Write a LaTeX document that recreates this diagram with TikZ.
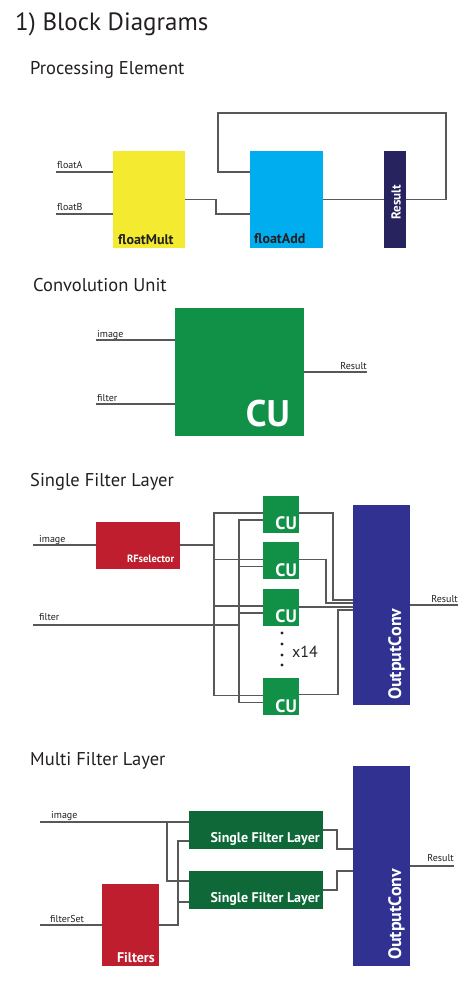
\documentclass[tikz,border=0pt]{standalone}
\usepackage{fontspec}
\setmainfont{PT Sans}
\usetikzlibrary{calc}
\definecolor{wiregray}{RGB}{88,88,88}
\definecolor{inkblack}{RGB}{35,31,32}
\definecolor{multyellow}{RGB}{244,235,49}
\definecolor{addblue}{RGB}{0,174,239}
\definecolor{resultnavy}{RGB}{39,35,94}
\definecolor{cugreen}{RGB}{16,145,71}
\definecolor{rfred}{RGB}{190,30,45}
\definecolor{convblue}{RGB}{49,49,146}
\definecolor{layergreen}{RGB}{14,104,56}
\tikzset{
	boxstyle/.style={rectangle,inner sep=0pt,outer sep=0pt},
	multstyle/.style={boxstyle,fill=multyellow,minimum width=72pt,minimum height=97pt},
	addstyle/.style={boxstyle,fill=addblue,minimum width=73pt,minimum height=97pt},
	resultstyle/.style={boxstyle,fill=resultnavy,minimum width=22pt,minimum height=97pt},
	cubigstyle/.style={boxstyle,fill=cugreen,minimum width=129pt,minimum height=128pt},
	custyle/.style={boxstyle,fill=cugreen,minimum width=36pt,minimum height=37pt},
	rfstyle/.style={boxstyle,fill=rfred,minimum width=84pt,minimum height=47pt},
	convstyle/.style={boxstyle,fill=convblue,minimum width=57pt,minimum height=200pt},
	layerstyle/.style={boxstyle,fill=layergreen,minimum width=134pt,minimum height=38pt},
	filterstyle/.style={boxstyle,fill=rfred,minimum width=57pt,minimum height=82pt},
	dotstyle/.style={circle,fill=inkblack,inner sep=0pt,minimum size=3.4pt},
	wirestyle/.style={draw=wiregray,line width=1.1pt},
	headstyle/.style={text=inkblack,inner sep=0pt,font=\fontsize{25}{30}\selectfont},
	sectionstyle/.style={text=inkblack,inner sep=0pt,font=\fontsize{18.5}{22}\selectfont},
	wirelabelstyle/.style={text=inkblack,inner sep=0pt,font=\fontsize{10}{12}\selectfont},
	darktextstyle/.style={text=inkblack,inner sep=0pt,font=\fontsize{14}{16}\selectfont\bfseries},
	whitetextstyle/.style={text=white,inner sep=0pt,font=\fontsize{14}{16}\selectfont\bfseries}
}
\begin{document}
\begin{tikzpicture}[x=1pt,y=-1pt]
	\useasboundingbox (0,0) rectangle (472,981);
	\node[headstyle,anchor=base west] (title) at (15,31) {1) Block Diagrams};
	% processing element
	\node[sectionstyle,anchor=base west] (petitle) at (30,75) {Processing Element};
	\node[multstyle] (mult) at (149,199.5) {};
	\node[addstyle] (add) at (286.5,199.5) {};
	\node[resultstyle] (res) at (395,199.5) {};
	\coordinate (fa) at (56,172);
	\coordinate (fb) at (56,214);
	\node[wirelabelstyle,anchor=base west] (falabel) at (57,169) {floatA};
	\node[wirelabelstyle,anchor=base west] (fblabel) at (57,211) {floatB};
	\draw[wirestyle] (fa) -- (mult.west |- fa);
	\draw[wirestyle] (fb) -- (mult.west |- fb);
	\draw[wirestyle] (mult.east) -- (216,199.5) |- (add.west |- fb);
	\draw[wirestyle] (add.east) -- (res.west);
	\draw[wirestyle] (res.east) -- (446,199.5) |- (218,113) |- (add.west |- fa);
	\node[darktextstyle,anchor=base west] (multtext) at ([xshift=5pt,yshift=3pt]mult.south west) {floatMult};
	\node[darktextstyle,anchor=base west] (addtext) at ([xshift=4pt,yshift=4pt]add.south west) {floatAdd};
	\node[whitetextstyle,font=\fontsize{13}{14}\selectfont\bfseries,rotate=90] (restext) at (396,202) {Result};
	% convolution unit
	\node[sectionstyle,anchor=base west] (cutitle) at (33,291) {Convolution Unit};
	\node[cubigstyle] (cu) at (239.5,372) {};
	\coordinate (cuimg) at (96,340);
	\coordinate (cufilt) at (96,404);
	\coordinate (cures) at (367,372);
	\node[wirelabelstyle,anchor=base west] (cuimglabel) at (97,337) {image};
	\node[wirelabelstyle,anchor=base west] (cufiltlabel) at (97,401) {filter};
	\node[wirelabelstyle,anchor=base east] (cureslabel) at (367,369) {Result};
	\draw[wirestyle] (cuimg) -- (cu.west |- cuimg);
	\draw[wirestyle] (cufilt) -- (cu.west |- cufilt);
	\draw[wirestyle] (cu.east) -- (cures);
	\node[whitetextstyle,font=\fontsize{37}{40}\selectfont\bfseries,anchor=base east] (cutext) at ([xshift=-14pt,yshift=10pt]cu.south east) {CU};
	% single filter layer
	\node[sectionstyle,anchor=base west] (sfltitle) at (30,486) {Single Filter Layer};
	\node[rfstyle] (rfs) at (137.5,545) {};
	\node[whitetextstyle,font=\fontsize{10.5}{12}\selectfont\bfseries,anchor=base east] (rfstext) at ([xshift=-5pt,yshift=6pt]rfs.south east) {RFselector};
	\foreach \i/\y in {1/514,2/560.5,3/607,4/696.5} {
		\node[custyle] (cu\i) at (281,\y) {};
		\node[whitetextstyle,font=\fontsize{18}{20}\selectfont\bfseries,anchor=base east] (cutext\i) at ([xshift=-2pt,yshift=3pt]cu\i.south east) {CU};
	}
	\node[convstyle] (oc1) at (381.5,605) {};
	\node[whitetextstyle,font=\fontsize{18}{20}\selectfont\bfseries,rotate=90,anchor=base west] (oc1text) at ([xshift=-9pt,yshift=5pt]oc1.south east) {OutputConv};
	\coordinate (sflimg) at (33,545);
	\coordinate (sflfilt) at (33,625);
	\coordinate (sflres) at (458,605);
	\coordinate (busa) at (214,545);
	\coordinate (busb) at (239,625);
	\node[wirelabelstyle,anchor=base west] (sflimglabel) at (39,542) {image};
	\node[wirelabelstyle,anchor=base west] (sflfiltlabel) at (39,620) {filter};
	\node[wirelabelstyle,anchor=base east] (sflreslabel) at (458,602) {Result};
	\draw[wirestyle] (sflimg) -- (rfs.west);
	\draw[wirestyle] (rfs.east) -- (busa);
	\draw[wirestyle] (sflfilt) -- (busb);
	\foreach \i in {1,...,4} {
		\draw[wirestyle] (busa) |- ([yshift=1pt]cu\i.west);
		\draw[wirestyle] (busb) |- ([yshift=-6pt]cu\i.west);
	}
	\draw[wirestyle] ([yshift=1pt]cu1.east) -| ([xshift=-20pt,yshift=5pt]oc1.west) -- ([yshift=5pt]oc1.west);
	\draw[wirestyle] ([yshift=1pt]cu2.east) -| ([xshift=-27pt,yshift=2pt]oc1.west) -- ([yshift=2pt]oc1.west);
	\draw[wirestyle] (cu3.east) -- (oc1.west |- cu3.east);
	\draw[wirestyle] ([yshift=2pt]cu4.east) -| ([xshift=-15pt,yshift=-5pt]oc1.west) -- ([yshift=-5pt]oc1.west);
	\draw[wirestyle] (oc1.east) -- (sflres);
	\foreach \i/\y in {1/633,2/644,3/655,4/665}
		\node[dotstyle] (dot\i) at (282,\y) {};
	\node[text=inkblack,inner sep=0pt,font=\fontsize{16}{18}\selectfont,anchor=west] (cucount) at (292,652) {x14};
	% multi filter layer
	\node[sectionstyle,anchor=base west] (mfltitle) at (30,765) {Multi Filter Layer};
	\node[layerstyle] (sfl1) at (256,830) {};
	\node[layerstyle] (sfl2) at (256,890) {};
	\node[filterstyle] (filters) at (130.5,925) {};
	\node[convstyle] (oc2) at (381.5,866) {};
	\node[whitetextstyle,anchor=base east] (sfl1text) at ([xshift=-3pt,yshift=7pt]sfl1.south east) {Single Filter Layer};
	\node[whitetextstyle,anchor=base east] (sfl2text) at ([xshift=-3pt,yshift=7pt]sfl2.south east) {Single Filter Layer};
	\node[whitetextstyle,anchor=base east] (filterstext) at ([xshift=-4pt,yshift=4pt]filters.south east) {Filters};
	\node[whitetextstyle,font=\fontsize{18}{20}\selectfont\bfseries,rotate=90,anchor=base west] (oc2text) at ([xshift=-9pt,yshift=6pt]oc2.south east) {OutputConv};
	\coordinate (mflimg) at (40,822);
	\coordinate (mflset) at (40,925);
	\coordinate (mflres) at (454,866);
	\coordinate (busc) at (167,822);
	\coordinate (busd) at (178,925);
	\node[wirelabelstyle,anchor=base west] (mflimglabel) at (51,818) {image};
	\node[wirelabelstyle,anchor=base west] (mflsetlabel) at (50,922) {filterSet};
	\node[wirelabelstyle,anchor=base east] (mflreslabel) at (454,861) {Result};
	\draw[wirestyle] (mflimg) -- (sfl1.west |- mflimg);
	\draw[wirestyle] (busc) |- ([yshift=9pt]sfl2.west);
	\draw[wirestyle] (mflset) -- (filters.west);
	\draw[wirestyle] (filters.east) -- (busd) |- ([yshift=-11pt]sfl1.west);
	\draw[wirestyle] (busd) |- ([yshift=-12pt]sfl2.west);
	\draw[wirestyle] (sfl1.east) -| ([xshift=-16pt,yshift=17pt]oc2.west) -- ([yshift=17pt]oc2.west);
	\draw[wirestyle] (sfl2.east) -| ([xshift=-16pt,yshift=-5pt]oc2.west) -- ([yshift=-5pt]oc2.west);
	\draw[wirestyle] (oc2.east) -- (mflres);
\end{tikzpicture}
\end{document}
